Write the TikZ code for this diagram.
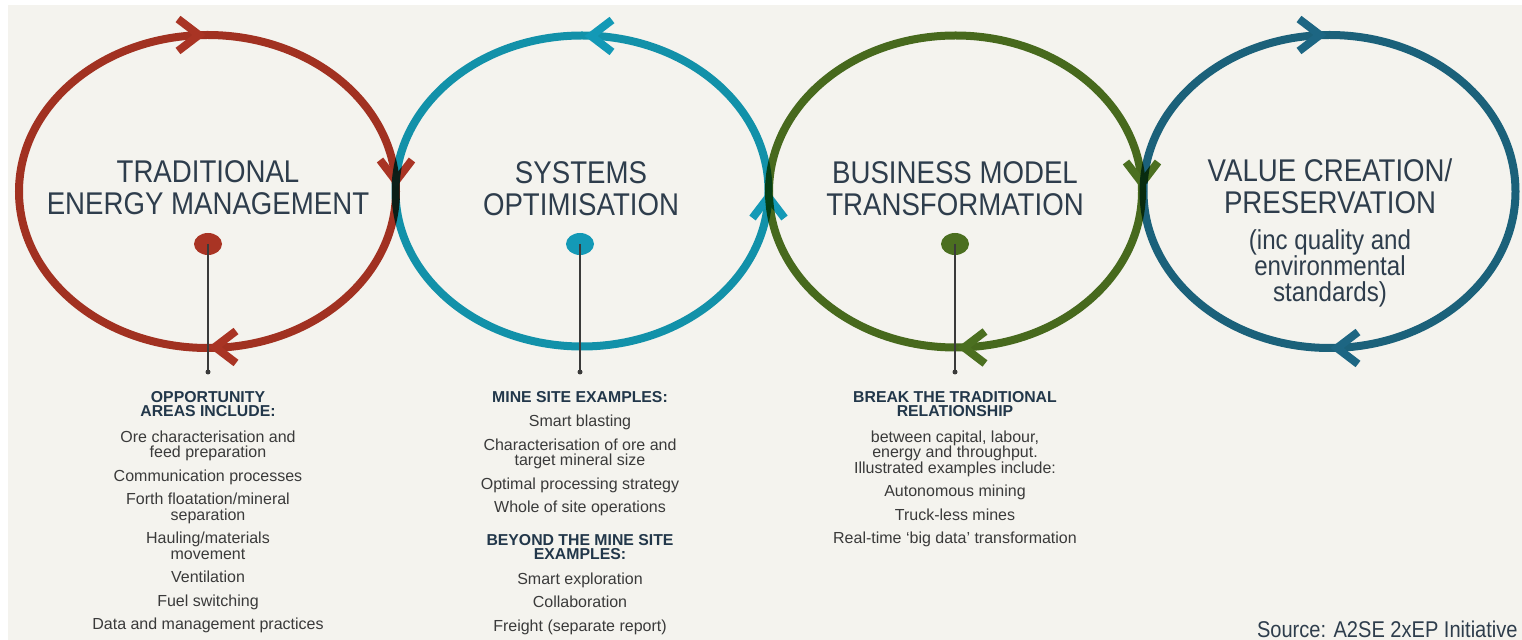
\documentclass[tikz,border=0pt]{standalone}
\usepackage{fontspec}
\setmainfont{Liberation Sans}
\newfontfamily\condfont[FakeStretch=0.88]{Liberation Sans}
\usetikzlibrary{positioning,shapes.geometric}

\definecolor{temred}{HTML}{A93424}
\definecolor{socyan}{HTML}{1399B6}
\definecolor{bmtgreen}{HTML}{4B6F20}
\definecolor{vcpteal}{HTML}{1D6683}
\definecolor{titlegray}{HTML}{2E3D4C}
\definecolor{headnavy}{HTML}{22374A}
\definecolor{bodygray}{HTML}{3A3A3A}
\definecolor{paper}{HTML}{F4F3EE}

\begin{document}
\begin{tikzpicture}[x=0.5pt, y=-0.5pt,
	loopline/.style={line width=4pt, blend mode=multiply},
	chevron/.style={line width=4pt, line join=miter, miter limit=10},
	title/.style={font=\condfont\fontsize{15.7}{16}\selectfont, text=titlegray, align=center, inner sep=0pt},
	subtitle/.style={font=\condfont\fontsize{13.7}{13}\selectfont, text=titlegray, align=center, inner sep=0pt},
	head/.style={font=\bfseries\fontsize{7.9}{7.25}\selectfont, text=headnavy, align=center, inner sep=0pt},
	body/.style={font=\fontsize{8}{7.75}\selectfont, text=bodygray, align=center, inner sep=0pt},
	hub/.style={ellipse, minimum width=14pt, minimum height=11pt, inner sep=0pt},
	stem/.style={draw=bodygray, line width=0.65pt}]
	\useasboundingbox (0,0) rectangle (1522,640);
	\fill[white] (0,0) rectangle (1522,640);
	\fill[paper] (8,5) rectangle (1522,640);

	% loops
	\draw[loopline, temred] (207.5,191.5) ellipse [x radius=188.5, y radius=156.5];
	\draw[chevron, temred] (199,35) ++(-21,-16) -- ++(21,16) -- ++(-21,16);
	\draw[chevron, temred] (396,181) ++(-16,-21) -- ++(16,21) -- ++(16,-21);
	\draw[chevron, temred] (215,347) ++(21,-16) -- ++(-21,16) -- ++(21,16);

	\draw[loopline, socyan] (582,191) ellipse [x radius=186.5, y radius=155.5];
	\draw[chevron, socyan] (591,36) ++(21,-16) -- ++(-21,16) -- ++(21,16);
	\draw[chevron, socyan] (768.5,197) ++(-16,21) -- ++(16,-21) -- ++(16,21);

	\draw[loopline, bmtgreen] (955.5,191.5) ellipse [x radius=186.5, y radius=156];
	\draw[chevron, bmtgreen] (1142,183) ++(-16,-21) -- ++(16,21) -- ++(16,-21);
	\draw[chevron, bmtgreen] (964,347.5) ++(21,-16) -- ++(-21,16) -- ++(21,16);

	\draw[loopline, vcpteal] (1329.5,191.5) ellipse [x radius=186, y radius=156.5];
	\draw[chevron, vcpteal] (1320,35) ++(-21,-16) -- ++(21,16) -- ++(-21,16);
	\draw[chevron, vcpteal] (1337,348) ++(21,-16) -- ++(-21,16) -- ++(21,16);

	% titles
	\node[title] (titleTEM) at (208,188)   {TRADITIONAL\\ENERGY MANAGEMENT};
	\node[title] (titleSO)  at (581,189)   {SYSTEMS\\OPTIMISATION};
	\node[title] (titleBMT) at (955,189)   {BUSINESS MODEL\\TRANSFORMATION};
	\node[title] (titleVCP) at (1330,186.5) {VALUE CREATION/\\PRESERVATION};
	\node[subtitle] (noteVCP) at (1330,268) {(inc quality and\\environmental\\standards)};

	% hubs and stems
	\node[hub, fill=temred]   (hubTEM) at (208,244) {};
	\node[hub, fill=socyan]   (hubSO)  at (580,244) {};
	\node[hub, fill=bmtgreen] (hubBMT) at (955,244) {};
	\coordinate (footTEM) at (208,372);
	\coordinate (footSO)  at (580,372);
	\coordinate (footBMT) at (955,372);
	\foreach \n in {TEM, SO, BMT} {
		\draw[stem] (hub\n.center) -- (foot\n);
		\fill[bodygray] (foot\n) circle [radius=2.5];
	}

	% lists
	\node[head, anchor=north] (headTEM) at (208,391) {OPPORTUNITY\\AREAS INCLUDE:};
	\node[body, below=6.5pt of headTEM] (listTEM) {Ore characterisation and\\feed preparation\\[4pt]
		Communication processes\\[4pt]Forth floatation/mineral\\separation\\[4pt]
		Hauling/materials\\movement\\[4pt]Ventilation\\[4pt]Fuel switching\\[4pt]
		Data and management practices};

	\node[head, anchor=north] (headSO) at (580,391) {MINE SITE EXAMPLES:};
	\node[body, below=6pt of headSO] (listSO) {Smart blasting\\[4pt]
		Characterisation of ore and\\target mineral size\\[4pt]
		Optimal processing strategy\\[4pt]Whole of site operations};
	\node[head, below=8.5pt of listSO] (headSOb) {BEYOND THE MINE SITE\\EXAMPLES:};
	\node[body, below=6pt of headSOb] (listSOb) {Smart exploration\\[4pt]Collaboration\\[4pt]
		Freight (separate report)};

	\node[head, anchor=north] (headBMT) at (955,391) {BREAK THE TRADITIONAL\\RELATIONSHIP};
	\node[body, below=6.5pt of headBMT] (listBMT) {between capital, labour,\\energy and throughput.\\
		Illustrated examples include:\\[4pt]Autonomous mining\\[4pt]Truck-less mines\\[4pt]
		Real-time ‘big data’ transformation};

	\node[font=\condfont\fontsize{11.4}{12}\selectfont, text=titlegray, inner sep=0pt,
		anchor=base east] (source) at (1518,638) {Source: A2SE 2xEP Initiative};
\end{tikzpicture}
\end{document}
